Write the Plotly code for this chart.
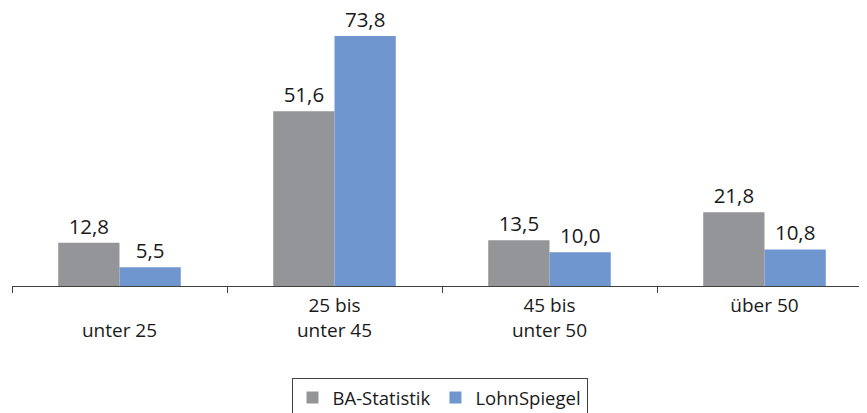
import plotly.graph_objects as go

categories = ["unter 25", "25 bis unter 45", "45 bis unter 50", "über 50"]
tick_labels = [" <br>unter 25", "25 bis<br>unter 45", "45 bis<br>unter 50", "über 50"]
ba_statistik = [12.8, 51.6, 13.5, 21.8]
lohnspiegel = [5.5, 73.8, 10.0, 10.8]

FONT = "Open Sans"
TXT = "#1a1a1a"
LBL = 20.5
TICK = 19
fig = go.Figure()
fig.add_trace(go.Bar(x=categories, y=ba_statistik, name="BA-Statistik",
                     marker=dict(color="#939598", line=dict(width=0)),
                     texttemplate="%{y:.1f}", textposition="outside",
                     textfont=dict(size=LBL, color=TXT, family=FONT), cliponaxis=False))
fig.add_trace(go.Bar(x=categories, y=lohnspiegel, name="LohnSpiegel",
                     marker=dict(color="#7096cf", line=dict(width=0)),
                     texttemplate="%{y:.1f}", textposition="outside",
                     textfont=dict(size=LBL, color=TXT, family=FONT), cliponaxis=False))

# page body has an 8px margin; figure sized so it fills the 867x413 window
fig.update_layout(
    width=859, height=405,
    margin=dict(l=4, r=0, t=0, b=127, autoexpand=False),
    paper_bgcolor="white", plot_bgcolor="white",
    separators=",.",
    barmode="group", bargap=0.43, bargroupgap=0,
    font=dict(family=FONT, size=TICK, color=TXT),
    showlegend=True,
    legend=dict(orientation="h", x=0.5, xanchor="center", y=-0.331, yanchor="top",
                bordercolor="#404040", borderwidth=1, font=dict(size=18.5, family=FONT),
                itemwidth=30, traceorder="normal"),
    xaxis=dict(type="category", range=[-0.5, -0.5 + 855 / 215],
               tickmode="array", tickvals=categories, ticktext=tick_labels,
               tickson="boundaries", ticks="outside", ticklen=6, tickcolor="#404040",
               showline=True, linecolor="#404040", linewidth=1, showgrid=False,
               automargin=False, ticklabelstandoff=2,
               tickfont=dict(size=TICK, family=FONT, color=TXT)),
    yaxis=dict(range=[0, 82.07], visible=False, showgrid=False, zeroline=False,
               automargin=False),
)

fig.write_html("out.html")
